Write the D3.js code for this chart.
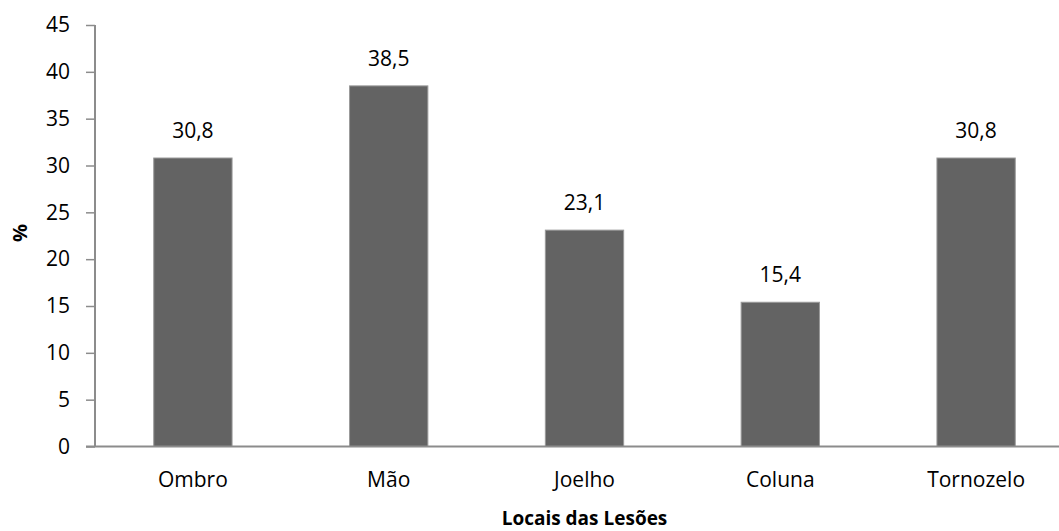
<!DOCTYPE html>
<html>
<head>
<meta charset="utf-8">
<script src="https://cdn.jsdelivr.net/npm/d3@7"></script>
<style>
  body { margin: 0; background: #fff; }
  svg { display: block; font-family: "Open Sans", sans-serif; }
</style>
</head>
<body>
<script>
// data
var categories = ["Ombro", "Mão", "Joelho", "Coluna", "Tornozelo"];
var values = [30.8, 38.5, 23.1, 15.4, 30.8];
var valueLabels = ["30,8", "38,5", "23,1", "15,4", "30,8"];
var yTicks = [0, 5, 10, 15, 20, 25, 30, 35, 40, 45];

var w = 1059, h = 531;
var plotLeft = 95, plotRight = 1074, plotTop = 25, plotBottom = 446.5;

var svg = d3.select("body").append("svg")
    .attr("width", w)
    .attr("height", h);

var x = d3.scaleBand()
    .domain(categories)
    .range([plotLeft, plotRight])
    .paddingInner(0.6)
    .paddingOuter(0.3);

var y = d3.scaleLinear()
    .domain([0, 45])
    .range([plotBottom, plotTop]);

// bars
svg.selectAll("rect.bar")
    .data(values)
    .enter()
    .append("rect")
    .attr("class", "bar")
    .attr("x", function (d, i) { return x(categories[i]); })
    .attr("y", function (d) { return y(d); })
    .attr("width", x.bandwidth())
    .attr("height", function (d) { return y(0) - y(d); })
    .attr("fill", "#636363")
    .attr("stroke", "#9a9a9a")
    .attr("stroke-width", 1);

// value labels
svg.selectAll("text.val")
    .data(values)
    .enter()
    .append("text")
    .attr("class", "val")
    .attr("x", function (d, i) { return x(categories[i]) + x.bandwidth() / 2; })
    .attr("y", function (d) { return y(d) - 20; })
    .attr("text-anchor", "middle")
    .attr("font-size", "21px")
    .attr("fill", "#000")
    .text(function (d, i) { return valueLabels[i]; });

// y axis
var yAxis = d3.axisLeft(y)
    .tickValues(yTicks)
    .tickSize(9)
    .tickPadding(16)
    .tickFormat(d3.format("d"));
var gy = svg.append("g")
    .attr("transform", "translate(" + plotLeft + ",0)")
    .call(yAxis);
gy.select(".domain").attr("stroke", "#8c8c8c").attr("stroke-width", 2)
    .attr("d", "M0," + plotTop + "V" + plotBottom);
gy.selectAll(".tick line").attr("stroke", "#8c8c8c").attr("stroke-width", 1.5);
gy.selectAll(".tick text").attr("font-size", "21px").attr("fill", "#000")
    .attr("font-family", "'Open Sans', sans-serif");

// x axis
var xAxis = d3.axisBottom(x).tickSize(0).tickPadding(26);
var gx = svg.append("g")
    .attr("transform", "translate(0," + plotBottom + ")")
    .call(xAxis);
gx.select(".domain").attr("stroke", "#8c8c8c").attr("stroke-width", 2)
    .attr("d", "M" + (plotLeft - 9) + ",0H" + plotRight);
gx.selectAll(".tick text").attr("font-size", "21px").attr("fill", "#000")
    .attr("font-family", "'Open Sans', sans-serif");

// axis titles
svg.append("text")
    .attr("x", (plotLeft + plotRight) / 2)
    .attr("y", 525)
    .attr("text-anchor", "middle")
    .attr("font-size", "19px")
    .attr("font-weight", "bold")
    .text("Locais das Lesões");

svg.append("text")
    .attr("transform", "translate(27,233) rotate(-90)")
    .attr("text-anchor", "middle")
    .attr("font-size", "20px")
    .attr("font-weight", "bold")
    .text("%");
</script>
</body>
</html>
